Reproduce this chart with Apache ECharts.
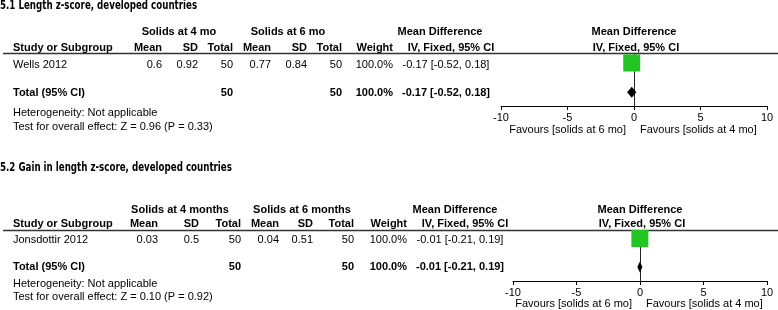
<!DOCTYPE html>
<html lang="en">
<head>
    <meta charset="UTF-8">
    <title>Forest plot</title>
    <script src="https://cdn.jsdelivr.net/npm/echarts@6/dist/echarts.min.js"></script>
    <style>
        html, body { margin: 0; padding: 0; background: #fff; }
        .chart { width: 778px; height: 310px; }
    </style>
</head>
<body>
    <div class="chart"></div>
</body>
<script>
    // data of the two comparisons
    const titles = ['5.1 Length z-score, developed countries', '5.2 Gain in length z-score, developed countries']
    const groupNames = [['Solids at 4 mo', 'Solids at 6 mo'], ['Solids at 4 months', 'Solids at 6 months']]
    const studies = ['Wells 2012', 'Jonsdottir 2012']
    const mean4 = ['0.6', '0.03']
    const sd4 = ['0.92', '0.5']
    const total4 = [50, 50]
    const mean6 = ['0.77', '0.04']
    const sd6 = ['0.84', '0.51']
    const total6 = [50, 50]
    const weights = ['100.0%', '100.0%']
    const md = [-0.17, -0.01]
    const ciLow = [-0.52, -0.21]
    const ciHigh = [0.18, 0.19]
    const zValues = ['0.96', '0.10']
    const pValues = ['0.33', '0.92']
    const colHeads = ['Mean', 'SD', 'Total', 'Mean', 'SD', 'Total', 'Weight']
    const xTicks = [-10, -5, 0, 5, 10]
    const favours = ['Favours [solids at 6 mo]', 'Favours [solids at 4 mo]']

    // layout (pixels)
    const colRight = [[162, 198, 233, 271, 307, 342, 393], [158, 199, 241, 279, 313, 354, 407]]
    const groupCenter = [[179, 288], [180, 302]]
    const mdHeadCenter = [440, 455]
    const ivHeadCenter = [451, 465]
    const ciTextCenter = [446, 460]
    const rowY = [
        { title: 6, group: 32, head: 48, line: 53.5, study: 65, total: 93, het: 113, test: 127, fav: 130 },
        { title: 168, group: 210, head: 224, line: 230.5, study: 239.5, total: 266.5, het: 284, test: 297, fav: 304 }
    ]
    const grids = [
        { left: 501, width: 266, top: 53.5, height: 52.5 },
        { left: 513, width: 254, top: 230.5, height: 50.5 }
    ]
    const yRange = [[-0.65, 2.95], [-0.56, 2.98]]

    const FONT = '"Liberation Sans", Arial, sans-serif'
    const green = '#21c421'

    function txt(x, y, s, align, bold) {
        return {
            type: 'text', x: x, y: y, silent: true,
            style: {
                text: s, fill: '#000', align: align || 'left', verticalAlign: 'middle',
                textAlign: align || 'left', textVerticalAlign: 'middle',
                font: (bold ? 'bold ' : '') + '11px ' + FONT
            }
        }
    }

    function fmtCI(i) {
        return md[i].toFixed(2) + ' [' + ciLow[i].toFixed(2) + ', ' + ciHigh[i].toFixed(2) + ']'
    }

    let graphic = []
    for (let p = 0; p < 2; p++) {
        const r = rowY[p], c = colRight[p]
        // section title, condensed bold
        graphic.push({
            type: 'text', x: 0, y: r.title, silent: true, scaleX: 0.84,
            style: {
                text: titles[p], fill: '#000', textAlign: 'left', textVerticalAlign: 'middle',
                font: 'bold 11.5px "DejaVu Sans Condensed", "DejaVu Sans", sans-serif'
            }
        })
        graphic.push(txt(groupCenter[p][0], r.group, groupNames[p][0], 'center', true))
        graphic.push(txt(groupCenter[p][1], r.group, groupNames[p][1], 'center', true))
        graphic.push(txt(mdHeadCenter[p], r.group, 'Mean Difference', 'center', true))
        graphic.push(txt(ivHeadCenter[p], r.head, 'IV, Fixed, 95% CI', 'center', true))
        const g = grids[p]
        const mid = g.left + g.width / 2
        graphic.push(txt(mid, r.group, 'Mean Difference', 'center', true))
        graphic.push(txt(mid + 2, r.head, 'IV, Fixed, 95% CI', 'center', true))
        graphic.push(txt(13, r.head, 'Study or Subgroup', 'left', true))
        colHeads.forEach((h, k) => graphic.push(txt(c[k], r.head, h, 'right', true)))
        graphic.push({
            type: 'line', silent: true,
            shape: { x1: 3, y1: r.line, x2: 778, y2: r.line },
            style: { stroke: '#333', lineWidth: 1.5 }
        })
        // study row
        const vals = [mean4[p], sd4[p], total4[p], mean6[p], sd6[p], total6[p], weights[p]]
        graphic.push(txt(13, r.study, studies[p], 'left', false))
        vals.forEach((v, k) => graphic.push(txt(c[k], r.study, String(v), 'right', false)))
        graphic.push(txt(ciTextCenter[p], r.study, fmtCI(p), 'center', false))
        // total row
        graphic.push(txt(13, r.total, 'Total (95% CI)', 'left', true))
        graphic.push(txt(c[2], r.total, String(total4[p]), 'right', true))
        graphic.push(txt(c[5], r.total, String(total6[p]), 'right', true))
        graphic.push(txt(c[6], r.total, weights[p], 'right', true))
        graphic.push(txt(ciTextCenter[p], r.total, fmtCI(p), 'center', true))
        graphic.push(txt(13, r.het, 'Heterogeneity: Not applicable', 'left', false))
        graphic.push(txt(13, r.test, 'Test for overall effect: Z = ' + zValues[p] + ' (P = ' + pValues[p] + ')', 'left', false))
        // favours labels around zero
        const zero = g.left + g.width / 2
        graphic.push(txt(zero - 8, r.fav, favours[0], 'right', false))
        graphic.push(txt(zero + 6, r.fav, favours[1], 'left', false))
    }

    let mCharts = echarts.init(document.querySelector('.chart'))

    let xAxis = [], yAxis = [], series = []
    for (let p = 0; p < 2; p++) {
        xAxis.push({
            type: 'value', gridIndex: p,
            min: xTicks[0], max: xTicks[xTicks.length - 1], interval: xTicks[1] - xTicks[0],
            axisLine: { onZero: false, lineStyle: { color: '#000', width: 1 } },
            axisTick: { length: 4, lineStyle: { color: '#000' } },
            axisLabel: { color: '#000', fontSize: 11, fontFamily: FONT, margin: 6 },
            splitLine: { show: false }
        })
        yAxis.push({
            type: 'value', gridIndex: p, inverse: true,
            min: yRange[p][0], max: yRange[p][1], show: false, splitLine: { show: false }
        })
        // line of no effect
        series.push({
            type: 'scatter', xAxisIndex: p, yAxisIndex: p, z: 1,
            data: [],
            markLine: {
                silent: true, symbol: 'none', label: { show: false },
                lineStyle: { color: '#222', width: 1, type: 'solid' },
                data: [{ xAxis: 0 }]
            }
        })
        // confidence interval line
        series.push({
            type: 'custom', xAxisIndex: p, yAxisIndex: p, z: 8,
            data: [[ciLow[p], ciHigh[p], 0]],
            renderItem: function (params, api) {
                const a = api.coord([api.value(0), api.value(2)])
                const b = api.coord([api.value(1), api.value(2)])
                return {
                    type: 'line',
                    shape: { x1: a[0], y1: a[1], x2: b[0], y2: b[1] },
                    style: { stroke: '#000', lineWidth: 1 }
                }
            }
        })
        // study estimate
        series.push({
            type: 'scatter', xAxisIndex: p, yAxisIndex: p, z: 10,
            symbol: 'rect', symbolSize: 17,
            itemStyle: { color: green, opacity: 1 },
            data: [[md[p], 0]]
        })
        // pooled diamond
        series.push({
            type: 'custom', xAxisIndex: p, yAxisIndex: p, z: 11,
            data: [[ciLow[p], md[p], ciHigh[p], 2]],
            renderItem: function (params, api) {
                const lo = api.coord([api.value(0), api.value(3)])
                const mid = api.coord([api.value(1), api.value(3)])
                const hi = api.coord([api.value(2), api.value(3)])
                const h = 5.5
                return {
                    type: 'polygon',
                    shape: { points: [[lo[0], lo[1]], [mid[0], mid[1] - h], [hi[0], hi[1]], [mid[0], mid[1] + h]] },
                    style: { fill: '#000' }
                }
            }
        })
    }

    let option = {
        animation: false,
        grid: grids,
        xAxis: xAxis,
        yAxis: yAxis,
        series: series,
        graphic: graphic
    }
    mCharts.setOption(option)
</script>
</html>
